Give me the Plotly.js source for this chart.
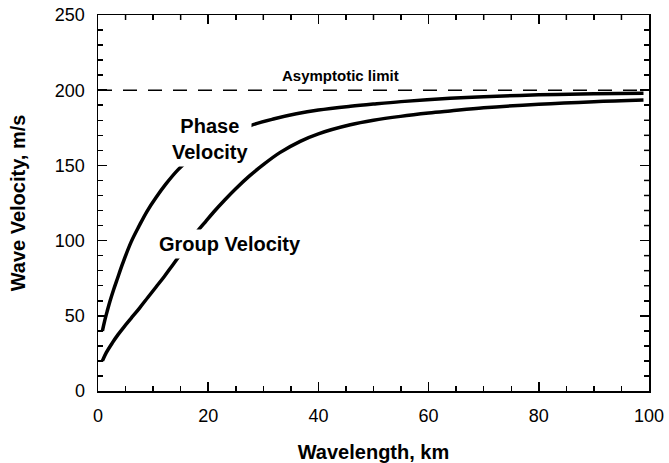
<!DOCTYPE html>
<html>
<head>
<meta charset="utf-8">
<script src="https://cdn.plot.ly/plotly-3.0.1.min.js"></script>
<style>html,body{margin:0;padding:0;background:#fff;}#chart{width:669px;height:463px;}</style>
</head>
<body>
<div id="chart"></div>
<script>
// Wavelength (km) and velocities (m/s)
var phaseX = [0.8, 1.2, 1.7, 2.2, 2.8, 3.5, 4.5, 6.0, 7.5, 8.9, 10.5, 12.3, 14.5, 17, 20, 24, 27.7, 32, 36, 40, 45.8, 50, 55, 63.9, 70, 80, 90, 99];
var phaseY = [40, 46.5, 53.5, 60, 67, 74.5, 85, 99, 110, 119.5, 128.5, 137.5, 147, 155.5, 163, 170.5, 176.5, 181, 184.3, 186.8, 189.3, 190.8, 192.4, 194.6, 195.7, 196.9, 197.6, 198];
var groupX = [0.8, 1.5, 2.6, 3.6, 4.7, 6, 7.5, 9, 10.5, 12, 13.5, 15, 16.5, 18, 19.5, 21, 23, 25, 27.5, 30, 33, 36.7, 40, 45.8, 50, 54.9, 60, 63.9, 70, 80, 90, 99];
var groupY = [20, 25.5, 32, 37.3, 42.5, 48.3, 55, 62, 69, 76, 83.5, 91, 98.5, 106, 112.5, 119, 127, 134.5, 143, 150.5, 158.5, 166, 171, 177, 180, 182.6, 184.8, 186.2, 188.3, 190.7, 192.4, 193.5];
var limitX = [0, 100];
var limitY = [200, 200];
var xTickVals = [0, 20, 40, 60, 80, 100];
var yTickVals = [0, 50, 100, 150, 200, 250];
var xMinorVals = [5, 10, 15, 25, 30, 35, 45, 50, 55, 65, 70, 75, 85, 90, 95];
var yMinorVals = [10, 20, 30, 40, 60, 70, 80, 90, 110, 120, 130, 140, 160, 170, 180, 190, 210, 220, 230, 240];

var FONT = '"Liberation Sans", Arial, Helvetica, sans-serif';
var MAJOR_LEN = 9, MINOR_LEN = 5, TICK_W = 1.5;

var traces = [
  {x: limitX, y: limitY, mode: 'lines', line: {color: '#000', width: 1.5, dash: '14px,11px'}, hoverinfo: 'skip'},
  {x: phaseX, y: phaseY, mode: 'lines', line: {color: '#000', width: 3.5, shape: 'spline'}, name: 'Phase Velocity'},
  {x: groupX, y: groupY, mode: 'lines', line: {color: '#000', width: 3.5, shape: 'spline'}, name: 'Group Velocity'}
];

// Minor tick marks mirrored on the top and right frame edges (major ones come from axis mirror)
var shapes = [];
xMinorVals.forEach(function (v) {
  shapes.push({type: 'line', layer: 'above', xref: 'x', x0: v, x1: v,
    yref: 'paper', ysizemode: 'pixel', yanchor: 1, y0: 0, y1: -MINOR_LEN,
    line: {color: '#000', width: TICK_W}});
});
yMinorVals.forEach(function (v) {
  shapes.push({type: 'line', layer: 'above', yref: 'y', y0: v, y1: v,
    xref: 'paper', xsizemode: 'pixel', xanchor: 1, x0: 0, x1: -MINOR_LEN,
    line: {color: '#000', width: TICK_W}});
});

function minorTicks(vals) {
  return {tickvals: vals, ticks: 'inside', ticklen: MINOR_LEN, tickwidth: TICK_W, tickcolor: '#000', showgrid: false};
}

var layout = {
  width: 669, height: 463,
  margin: {l: 98, r: 20, t: 15, b: 72},
  paper_bgcolor: '#fff', plot_bgcolor: '#fff',
  showlegend: false,
  font: {family: FONT, color: '#000'},
  xaxis: {
    range: [0, 100], tickvals: xTickVals,
    ticks: 'inside', ticklen: MAJOR_LEN, tickwidth: TICK_W, tickcolor: '#000',
    showline: true, linewidth: 1.5, linecolor: '#000', mirror: 'ticks',
    showgrid: false, zeroline: false,
    minor: minorTicks(xMinorVals),
    tickfont: {size: 18, family: FONT}, ticklabelstandoff: 8,
    title: {text: '<b>Wavelength, km</b>', font: {size: 20, family: FONT}, standoff: 22}
  },
  yaxis: {
    range: [0, 250], tickvals: yTickVals,
    ticks: 'inside', ticklen: MAJOR_LEN, tickwidth: TICK_W, tickcolor: '#000',
    showline: true, linewidth: 1.5, linecolor: '#000', mirror: 'ticks',
    showgrid: false, zeroline: false,
    minor: minorTicks(yMinorVals),
    tickfont: {size: 18, family: FONT}, ticklabelstandoff: 8,
    title: {text: '<b>Wave Velocity, m/s</b>', font: {size: 20, family: FONT}, standoff: 24}
  },
  shapes: shapes,
  annotations: [
    {x: 44, y: 209.7, xref: 'x', yref: 'y', text: '<b>Asymptotic limit</b>', showarrow: false, font: {size: 15, family: FONT}},
    {x: 20.4, y: 167.5, xref: 'x', yref: 'y', text: '<b>Phase<br>Velocity</b>', showarrow: false, font: {size: 20, family: FONT}, bgcolor: '#fff', borderpad: 3},
    {x: 24, y: 97.7, xref: 'x', yref: 'y', text: '<b>Group Velocity</b>', showarrow: false, font: {size: 20, family: FONT}, bgcolor: '#fff', borderpad: 3}
  ]
};

Plotly.newPlot('chart', traces, layout, {staticPlot: true, displayModeBar: false});
</script>
</body>
</html>
